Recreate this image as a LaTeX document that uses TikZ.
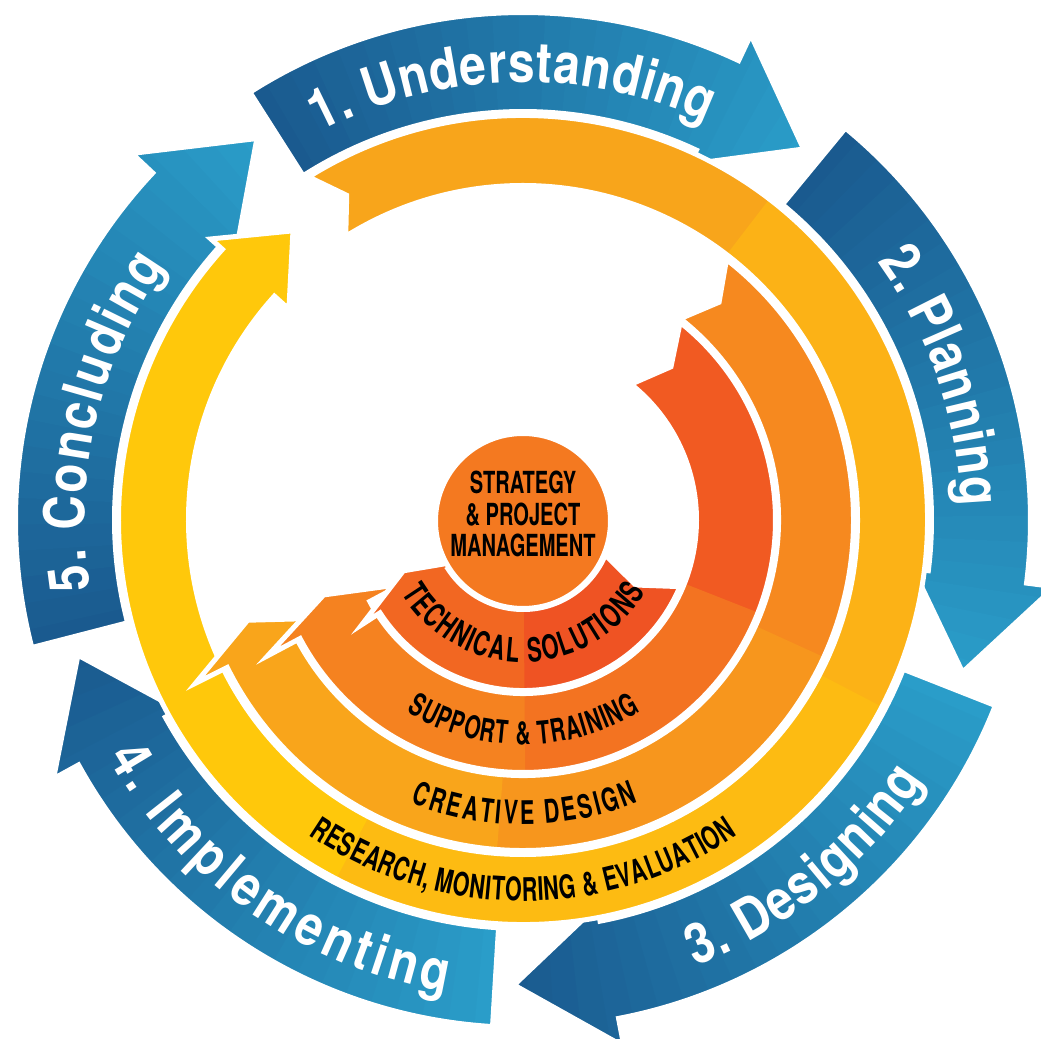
\documentclass[tikz,border=0pt]{standalone}
\usepackage{fontspec}
\usetikzlibrary{decorations.text}
\newfontfamily\labelfont[FakeStretch=0.85]{TeX Gyre Heros}
\newfontfamily\capsfont[FakeStretch=0.66]{TeX Gyre Heros}
\definecolor{blueD}{HTML}{1A5A8F}
\definecolor{blueL}{HTML}{2A9DC9}
\definecolor{resA}{HTML}{F8A51B}
\definecolor{resB}{HTML}{FCB216}
\definecolor{resC}{HTML}{FDBB12}
\definecolor{resD}{HTML}{FFC80B}
\definecolor{creA}{HTML}{F6891F}
\definecolor{creB}{HTML}{F7961D}
\definecolor{creC}{HTML}{F9A51B}
\definecolor{supA}{HTML}{F15A22}
\definecolor{supB}{HTML}{F37321}
\definecolor{supC}{HTML}{F58220}
\definecolor{tecA}{HTML}{EF5323}
\definecolor{tecB}{HTML}{F26722}
\definecolor{coreC}{HTML}{F47920}
\newcommand\pxu{0.2mm}
\newcommand\ringarrow[8]{(#3:#2) arc[start angle=#3, end angle=#5, radius={#2*\pxu}] -- (#5:#8) -- (#6:{(#1+#2)/2}) -- (#5:#7) -- (#5:#1) arc[start angle=#5, end angle=#3, radius={#1*\pxu}] -- ({#3-#4}:{(#1+#2)/2}) -- cycle}
\newcommand\bluearrow[1]{(#1:507) arc[start angle=#1, end angle={#1-57.7}, radius={507*\pxu}] -- ({#1-57.7}:535) -- ({#1-69.5}:465) -- ({#1-57.7}:394) -- ({#1-57.7}:409) arc[start angle={#1-57.7}, end angle=#1, radius={409*\pxu}] -- cycle}
\newcommand\wedgepath[2]{(0,0) -- (#1:600) arc[start angle=#1, end angle=#2, radius={600*\pxu}] -- cycle}
\tikzset{%
  bandline/.style={draw=white,line width=1mm},
  blueline/.style={draw=white,line width=0.8mm},
  steplabel/.style 2 args={decorate,decoration={text along path,text align=center,
    text={|\labelfont\bfseries\fontsize{32}{36}\selectfont\color{white}\kern#1|#2}}},
  ringlabel/.style n args={3}{decorate,decoration={text along path,text align=center,
    text={|\capsfont\bfseries\fontsize{#1}{#1}\selectfont\kern#2|#3}}},
  corelabel/.style={align=center,inner sep=0,font=\capsfont\bfseries\fontsize{17.3}{17.9}\selectfont}
}
\begin{document}
\begin{tikzpicture}[x=0.2mm,y=0.2mm]
  \useasboundingbox (-523,-518) rectangle (518,520);
  \fill[white] (-523,-518) rectangle (518,520);
  \foreach \ta/\rev in {122.5/0,50.5/0,-21.5/1,-93.5/1,-165.5/0}{
    \begin{scope}
      \clip \bluearrow{\ta};
      \foreach \k in {0,...,23}{
        \pgfmathsetmacro\angA{\ta+1-3*\k}
        \pgfmathsetmacro\angB{\angA-3.5}
        \pgfmathtruncatemacro\mixpc{\rev==0 ? 100*\k/23 : 100-100*\k/23}
        \fill[blueL!\mixpc!blueD] \wedgepath{\angA}{\angB};
      }
    \end{scope}
    \path[blueline] \bluearrow{\ta};
  }
  \begin{scope}
    \clip \ringarrow{334.5}{404.5}{122}{3.5}{-222}{-231.5}{315}{420};
    \fill[resA] \wedgepath{124}{52};
    \fill[resB] \wedgepath{52.5}{-28};
    \fill[resC] \wedgepath{-27.5}{-118};
    \fill[resD] \wedgepath{-117.5}{-233};
  \end{scope}
  \path[bandline] \ringarrow{334.5}{404.5}{122}{3.5}{-222}{-231.5}{315}{420};
  \begin{scope}
    \clip \ringarrow{255.5}{330.5}{52}{4}{-153.5}{-160}{220}{366};
    \fill[creA] \wedgepath{54}{-25};
    \fill[creB] \wedgepath{-24.5}{-95};
    \fill[creC] \wedgepath{-94.5}{-165};
  \end{scope}
  \path[bandline] \ringarrow{255.5}{330.5}{52}{4}{-153.5}{-160}{220}{366};
  \begin{scope}
    \clip \ringarrow{173.5}{252.5}{51.5}{5.5}{-152}{-159.4}{137}{289};
    \fill[supA] \wedgepath{54}{-22};
    \fill[supB] \wedgepath{-21.5}{-90};
    \fill[supC] \wedgepath{-89.5}{-165};
  \end{scope}
  \path[bandline] \ringarrow{173.5}{252.5}{51.5}{5.5}{-152}{-159.4}{137}{289};
  \begin{scope}
    \clip \ringarrow{89.5}{170.5}{-23}{7}{-147}{-157}{76}{192};
    \fill[tecA] \wedgepath{-20}{-90};
    \fill[tecB] \wedgepath{-89.5}{-160};
  \end{scope}
  \path[bandline] \ringarrow{89.5}{170.5}{-23}{7}{-147}{-157}{76}{192};
  \node[circle,fill=coreC,draw=white,line width=1mm,minimum size=35mm,inner sep=0] (core) at (0,-1) {};
  \node[corelabel] (strat) at ([yshift=1.4mm]core.center) {STRATEGY\\\& PROJECT\\MANAGEMENT};
  \path[steplabel={0.4pt}{1. Understanding}] (136.5:438) arc[start angle=136.5, end angle=46.5, radius={438*\pxu}];
  \path[steplabel={0.4pt}{2. Planning}] (64:438) arc[start angle=64, end angle=-26, radius={438*\pxu}];
  \path[steplabel={0.8pt}{3. Designing}] (-96:478) arc[start angle=-96, end angle=-6, radius={478*\pxu}];
  \path[steplabel={2.5pt}{4. Implementing}] (-172:478) arc[start angle=-172, end angle=-78, radius={478*\pxu}];
  \path[steplabel={1.2pt}{5. Concluding}] (-146:438) arc[start angle=-146, end angle=-240, radius={438*\pxu}];
  \path[ringlabel={18.5}{0.3pt}{RESEARCH, MONITORING {\&} EVALUATION}] (195:381) arc[start angle=195, end angle=345, radius={381*\pxu}];
  \path[ringlabel={18.5}{1.5pt}{CREATIVE DESIGN}] (200:304.5) arc[start angle=200, end angle=340, radius={304.5*\pxu}];
  \path[ringlabel={18}{0.6pt}{SUPPORT {\&} TRAINING}] (190:224.5) arc[start angle=190, end angle=350, radius={224.5*\pxu}];
  \path[ringlabel={19}{1pt}{TECHNICAL SOLUTIONS}] (185:142) arc[start angle=185, end angle=355, radius={142*\pxu}];
\end{tikzpicture}
\end{document}
